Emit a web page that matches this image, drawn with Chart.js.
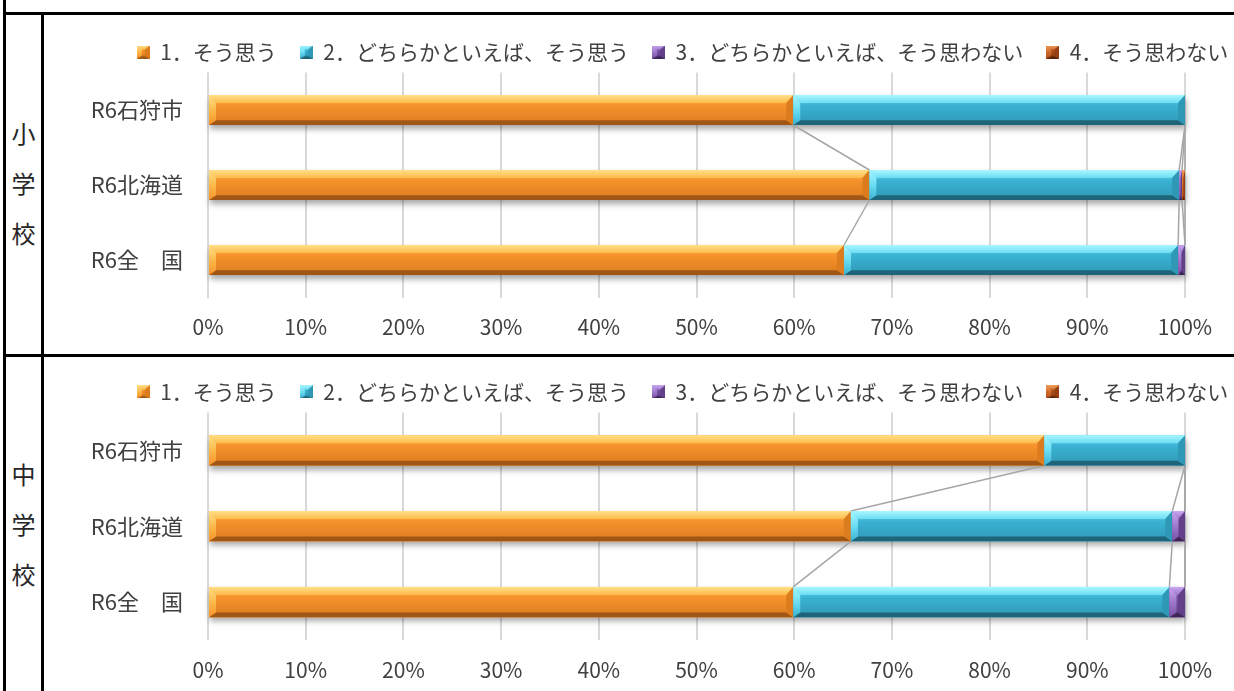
<!DOCTYPE html>
<html lang="ja">
<head>
<meta charset="utf-8">
<script src="https://cdn.jsdelivr.net/npm/chart.js@4.4.1/dist/chart.umd.min.js"></script>
<style>
  html, body { margin: 0; padding: 0; background: #fff; overflow: hidden; width: 1234px; height: 691px; }
  #sheet { position: relative; width: 1234px; height: 691px; overflow: hidden; font-family: "Noto Sans CJK JP", sans-serif; }
  .rule { position: absolute; background: #000; }
  .side { position: absolute; left: 6px; width: 35px; text-align: center; font-size: 24px; line-height: 50px; color: #262626; }
  .panel { position: absolute; left: 45px; }
  canvas { display: block; }
</style>
</head>
<body>
<div id="sheet">
  <div class="rule" style="left:3px;top:0;width:3px;height:691px"></div>
  <div class="rule" style="left:41px;top:12px;width:3px;height:679px"></div>
  <div class="rule" style="left:3px;top:12px;width:1231px;height:3px"></div>
  <div class="rule" style="left:3px;top:354px;width:1231px;height:3px"></div>
  <div class="side" style="top:108px">小<br>学<br>校</div>
  <div class="side" style="top:449px">中<br>学<br>校</div>
  <div class="panel" style="top:15px"><canvas id="elementary" width="1275" height="339"></canvas></div>
  <div class="panel" style="top:357px"><canvas id="junior" width="1275" height="340"></canvas></div>
</div>
<script>
// ---- data ----
const categories = ['R6石狩市', 'R6北海道', 'R6全　国'];
const seriesNames = ['1．そう思う', '2．どちらかといえば、そう思う', '3．どちらかといえば、そう思わない', '4．そう思わない'];

// 小学校 (%)
const elemAgree            = [59.9, 67.7, 65.1];
const elemSomewhatAgree    = [40.1, 31.7, 34.2];
const elemSomewhatDisagree = [0.0, 0.3, 0.7];
const elemDisagree         = [0.0, 0.3, 0.0];

// 中学校 (%)
const juniorAgree            = [85.6, 65.8, 59.9];
const juniorSomewhatAgree    = [14.4, 32.9, 38.5];
const juniorSomewhatDisagree = [0.0, 1.3, 1.6];
const juniorDisagree         = [0.0, 0.0, 0.0];

// ---- styling ----
const FONT = '"Noto Sans CJK JP", "Noto Sans", sans-serif';
Chart.defaults.font.family = FONT;

const palettes = [
  { hi: '#FFE08A', light: '#FDBA4A', base: '#F5922B', low: '#DB7C1F', dark: '#A05614' },
  { hi: '#A8F7FF', light: '#6CDDF3', base: '#3AB2D2', low: '#2F98B6', dark: '#1E6579' },
  { hi: '#C9A8F0', light: '#9E78CC', base: '#7851A3', low: '#63418A', dark: '#3E2758' },
  { hi: '#F0A060', light: '#D06A2A', base: '#B0501A', low: '#963F12', dark: '#5E2508' }
];

// beveled block used for bar segments and legend markers
function bevel(ctx, l, t, w, h, pal, bevW, bevH) {
  const r = l + w, b = t + h;
  const bv = Math.min(bevW, w / 2), bh = Math.min(bevH, h / 3);
  let g = ctx.createLinearGradient(0, t, 0, b);
  g.addColorStop(0, pal.light);
  g.addColorStop(0.35, pal.base);
  g.addColorStop(1, pal.low);
  ctx.fillStyle = g;
  ctx.fillRect(l, t, w, h);
  // top face
  g = ctx.createLinearGradient(0, t, 0, t + bh);
  g.addColorStop(0, pal.hi);
  g.addColorStop(1, pal.light);
  ctx.fillStyle = g;
  ctx.beginPath();
  ctx.moveTo(l, t); ctx.lineTo(r, t); ctx.lineTo(r - bv, t + bh); ctx.lineTo(l + bv, t + bh);
  ctx.closePath(); ctx.fill();
  // bottom face
  ctx.fillStyle = pal.dark;
  ctx.beginPath();
  ctx.moveTo(l, b); ctx.lineTo(r, b); ctx.lineTo(r - bv, b - bh * 0.6); ctx.lineTo(l + bv, b - bh * 0.6);
  ctx.closePath(); ctx.fill();
  // left face
  g = ctx.createLinearGradient(0, t, 0, b);
  g.addColorStop(0, pal.hi);
  g.addColorStop(0.5, pal.light);
  g.addColorStop(1, pal.base);
  ctx.fillStyle = g;
  ctx.beginPath();
  ctx.moveTo(l, t); ctx.lineTo(l + bv, t + bh); ctx.lineTo(l + bv, b - bh * 0.6); ctx.lineTo(l, b);
  ctx.closePath(); ctx.fill();
  // right face
  ctx.fillStyle = pal.low;
  ctx.beginPath();
  ctx.moveTo(r, t); ctx.lineTo(r - bv, t + bh); ctx.lineTo(r - bv, b - bh * 0.6); ctx.lineTo(r, b);
  ctx.closePath(); ctx.fill();
}

const markers = palettes.map(pal => {
  const c = document.createElement('canvas');
  c.width = 13; c.height = 13;
  bevel(c.getContext('2d'), 0, 0, 13, 13, pal, 5, 5);
  return c;
});

function segmentBox(el) {
  const p = el.getProps(['x', 'y', 'base', 'height']);
  const l = Math.min(p.x, p.base), r = Math.max(p.x, p.base);
  return { l, r, t: p.y - p.height / 2, b: p.y + p.height / 2, end: p.x };
}

// drop shadows under each stacked bar and the series lines joining segment ends
const underlay = {
  id: 'underlay',
  beforeDatasetsDraw(chart) {
    const ctx = chart.ctx;
    const metas = chart.data.datasets.map((d, k) => chart.getDatasetMeta(k));
    const n = chart.data.labels.length;
    ctx.save();
    for (let i = 0; i < n; i++) {
      let l = Infinity, r = -Infinity, t = 0, b = 0;
      metas.forEach(m => {
        const s = segmentBox(m.data[i]);
        if (s.r - s.l > 0.1) { l = Math.min(l, s.l); r = Math.max(r, s.r); t = s.t; b = s.b; }
      });
      ctx.shadowColor = 'rgba(0,0,0,0.35)';
      ctx.shadowBlur = 6;
      ctx.shadowOffsetX = 1;
      ctx.shadowOffsetY = 4;
      ctx.fillStyle = '#ffffff';
      ctx.fillRect(l, t, r - l, b - t);
    }
    ctx.restore();
    ctx.save();
    ctx.strokeStyle = '#A6A6A6';
    ctx.lineWidth = 1.5;
    metas.forEach(m => {
      for (let i = 0; i < n - 1; i++) {
        const a = segmentBox(m.data[i]), c = segmentBox(m.data[i + 1]);
        ctx.beginPath();
        ctx.moveTo(a.end, a.b);
        ctx.lineTo(c.end, c.t);
        ctx.stroke();
      }
    });
    ctx.restore();
  },
  afterDatasetsDraw(chart) {
    const ctx = chart.ctx;
    ctx.save();
    chart.data.datasets.forEach((d, k) => {
      chart.getDatasetMeta(k).data.forEach(el => {
        const s = segmentBox(el);
        if (s.r - s.l < 0.5) return;
        bevel(ctx, s.l, s.t, s.r - s.l, s.b - s.t, palettes[k], 7, 8);
      });
    });
    ctx.restore();
  }
};

function makeChart(id, series, topPad, axisHeight) {
  return new Chart(document.getElementById(id), {
    type: 'bar',
    data: {
      labels: categories,
      datasets: series.map((values, k) => ({
        label: seriesNames[k],
        data: values,
        backgroundColor: palettes[k].base,
        borderWidth: 0,
        barPercentage: 0.4,
        categoryPercentage: 1
      }))
    },
    options: {
      indexAxis: 'y',
      responsive: false,
      animation: false,
      layout: { padding: { top: topPad, left: 0, right: 0, bottom: 0 } },
      scales: {
        x: {
          stacked: true,
          min: 0,
          max: 100,
          ticks: {
            stepSize: 10,
            autoSkip: false,
            maxRotation: 0,
            padding: 17,
            color: '#404040',
            font: { size: 21 },
            callback: v => v + '%'
          },
          grid: { color: '#D9D9D9', lineWidth: 2, drawTicks: false },
          border: { display: false },
          afterFit(scale) { scale.height = axisHeight; }
        },
        y: {
          stacked: true,
          ticks: { padding: 25, color: '#404040', font: { size: 22 } },
          grid: { display: false, drawTicks: false },
          border: { display: false },
          afterFit(scale) { scale.width = 163; }
        },
        // empty right-hand margin of the plot
        yRight: {
          type: 'linear',
          position: 'right',
          ticks: { display: false },
          grid: { display: false, drawTicks: false },
          border: { display: false },
          afterFit(scale) { scale.width = 135; }
        }
      },
      plugins: {
        tooltip: { enabled: false },
        legend: {
          position: 'top',
          labels: {
            usePointStyle: true,
            boxWidth: 13,
            boxHeight: 13,
            padding: 23,
            color: '#404040',
            font: { size: 21 },
            generateLabels(chart) {
              const items = Chart.defaults.plugins.legend.labels.generateLabels(chart);
              items.forEach(it => { it.pointStyle = markers[it.datasetIndex]; });
              return items;
            }
          }
        }
      }
    },
    plugins: [underlay]
  });
}

makeChart('elementary', [elemAgree, elemSomewhatAgree, elemSomewhatDisagree, elemDisagree], 3.5, 56.5);
makeChart('junior', [juniorAgree, juniorSomewhatAgree, juniorSomewhatDisagree, juniorDisagree], 1.4, 57);
</script>
</body>
</html>
